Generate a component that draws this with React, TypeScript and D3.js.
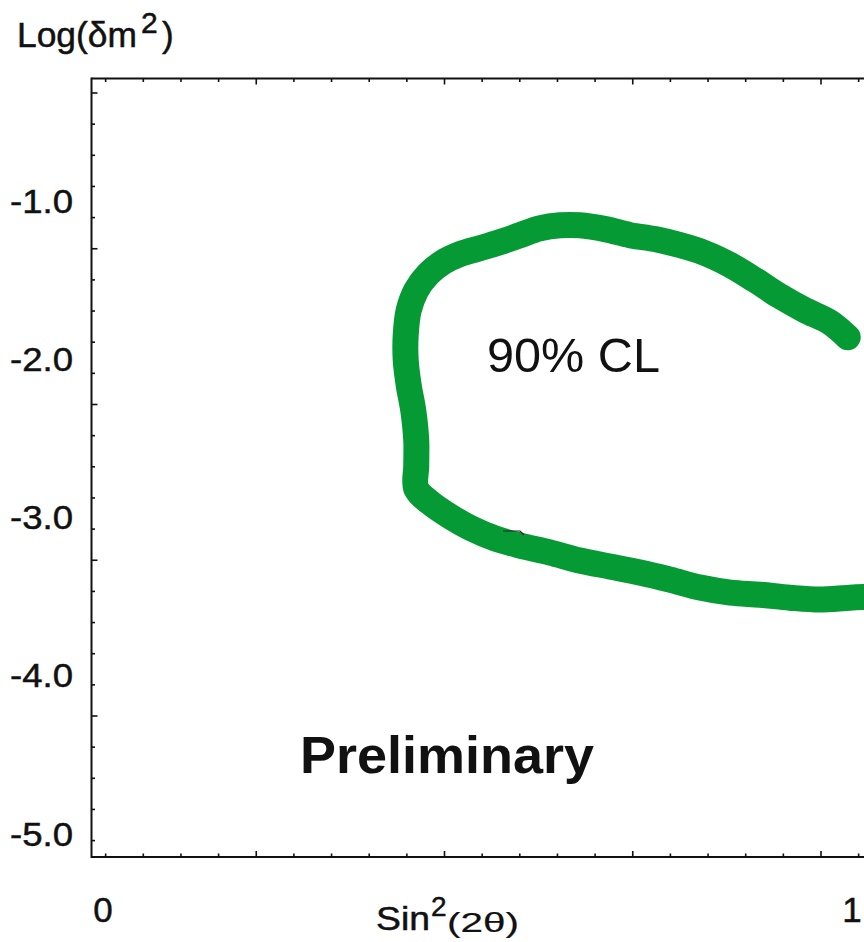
import React from "react";
import * as d3 from "d3";

// ---- data (sin^2(2θ), log(δm^2)) along the 90% CL contour ----
const contourX = [
  0.989, 0.965, 0.932, 0.899, 0.866, 0.833, 0.799, 0.766, 0.733, 0.700, 0.667, 0.633, 0.607,
  0.580, 0.554, 0.527, 0.501, 0.474, 0.452, 0.432, 0.416, 0.406, 0.402, 0.402, 0.406, 0.412,
  0.416, 0.416, 0.416, 0.434, 0.461, 0.487, 0.521, 0.554, 0.594, 0.633, 0.673, 0.713, 0.753,
  0.793, 0.833, 0.873, 0.912, 0.952, 0.992, 1.025,
];
const contourY = [
  -1.867, -1.772, -1.696, -1.608, -1.506, -1.411, -1.335, -1.285, -1.247, -1.222, -1.184, -1.160, -1.160,
  -1.180, -1.222, -1.266, -1.304, -1.342, -1.392, -1.468, -1.570, -1.696, -1.854, -2.013, -2.171, -2.329,
  -2.519, -2.677, -2.823, -2.911, -3.0, -3.070, -3.139, -3.184, -3.228, -3.278, -3.316, -3.354, -3.399,
  -3.449, -3.481, -3.494, -3.513, -3.525, -3.513, -3.506,
];
const yTickValues = [-1.0, -2.0, -3.0, -4.0, -5.0];
const yTickLabels = ["-1.0", "-2.0", "-3.0", "-4.0", "-5.0"];
const xTickValues = [0, 1];
const xTickLabels = ["0", "1"];
const frameXTicks = d3.range(1, 22);
const frameYTicks = d3.range(0, 25);

const FONT = "'Liberation Sans', Arial, Helvetica, sans-serif";
const GREEN = "#069a35";
const INK = "#111";

export default function App() {
  const W = 864;
  const H = 942;
  const left = 91.5;
  const top = 78.5;
  const bottom = 857;

  const x = d3.scaleLinear().domain([0, 1]).range([103, 856]);
  const y = d3.scaleLinear().domain([-1, -5]).range([200, 833]);
  const tickX = d3.scaleLinear().domain([0, 20]).range([68, 821]);
  const tickY = d3.scaleLinear().domain([0, 20]).range([93, 716]);

  const pts: [number, number][] = contourX.map((v, i) => [v, contourY[i]]);
  const line = d3
    .line<[number, number]>()
    .x((d) => x(d[0]))
    .y((d) => y(d[1]))
    .curve(d3.curveCatmullRom.alpha(0.5));

  const txt = { fill: INK, stroke: INK, strokeWidth: 0.5 };

  return (
    <svg
      width={W}
      height={H}
      style={{ position: "absolute", left: 0, top: 0, background: "#fff" }}
      fontFamily={FONT}
    >
      <rect x={0} y={0} width={W} height={H} fill="#fff" />

      {/* frame */}
      <g stroke={INK} strokeWidth={2} fill="none">
        <line x1={left} y1={top} x2={W} y2={top} />
        <line x1={left} y1={top - 1} x2={left} y2={bottom + 1} />
        <line x1={left} y1={bottom} x2={W} y2={bottom} />
      </g>
      <g stroke={INK} strokeWidth={1.6}>
        {frameXTicks.map((k) => {
          const len = k % 5 === 0 ? 6 : 3.5;
          return (
            <g key={"fx" + k}>
              <line x1={tickX(k)} x2={tickX(k)} y1={bottom} y2={bottom - len} />
              <line x1={tickX(k)} x2={tickX(k)} y1={top} y2={top + len} />
            </g>
          );
        })}
        {frameYTicks.map((k) => {
          const len = k % 5 === 0 ? 6 : 3.5;
          return <line key={"fy" + k} x1={left} x2={left + len} y1={tickY(k)} y2={tickY(k)} />;
        })}
      </g>

      {/* contour */}
      <path
        d={line(pts) || ""}
        fill="none"
        stroke={GREEN}
        strokeWidth={26}
        strokeLinecap="round"
        strokeLinejoin="round"
      />
      <path d="M503,531 L520,531 L524,535" fill="none" stroke="#222" strokeWidth={1.2} />

      {/* y labels */}
      {yTickValues.map((v, i) => (
        <text
          key={"yl" + i}
          x={10}
          y={y(v) + 12.5}
          fontSize={34}
          textLength={63}
          lengthAdjust="spacingAndGlyphs"
          {...txt}
        >
          {yTickLabels[i]}
        </text>
      ))}
      {/* x labels */}
      {xTickValues.map((v, i) => (
        <text
          key={"xl" + i}
          x={x(v)}
          dx={i === xTickValues.length - 1 ? -4 : 0}
          y={922}
          fontSize={35}
          textAnchor="middle"
          {...txt}
        >
          {xTickLabels[i]}
        </text>
      ))}

      {/* y title */}
      <text x={17} y={47} fontSize={35} textLength={120} lengthAdjust="spacingAndGlyphs" {...txt}>
        Log(δm
      </text>
      <text x={141} y={33} fontSize={30} {...txt}>2</text>
      <text x={162} y={47} fontSize={35} {...txt}>)</text>

      {/* x title */}
      <text x={376} y={930} fontSize={33} textLength={54} lengthAdjust="spacingAndGlyphs" {...txt}>
        Sin
      </text>
      <text x={431} y={916} fontSize={28} {...txt}>2</text>
      <text
        x={447}
        y={932}
        fontSize={28}
        textLength={72}
        lengthAdjust="spacingAndGlyphs"
        fill={INK}
        stroke={INK}
        strokeWidth={0.2}
      >
        (2θ)
      </text>

      {/* annotations */}
      <text x={487} y={372} fontSize={48} textLength={173} lengthAdjust="spacingAndGlyphs" fill={INK}>
        90% CL
      </text>
      <text
        x={300}
        y={773}
        fontSize={52}
        fontWeight="bold"
        fill={INK}
        textLength={294}
        lengthAdjust="spacingAndGlyphs"
      >
        Preliminary
      </text>
    </svg>
  );
}
